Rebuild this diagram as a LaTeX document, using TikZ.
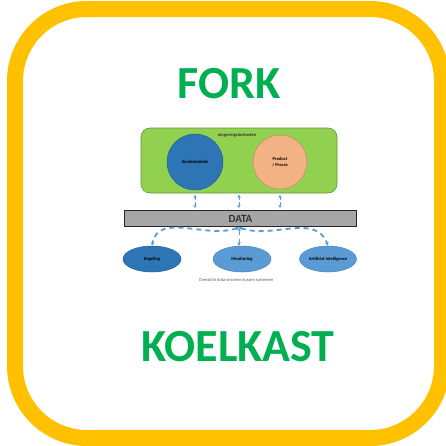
\documentclass[tikz,border=0pt]{standalone}
\usepackage{fontspec}
\setmainfont{Carlito}
\usetikzlibrary{shapes.geometric,arrows.meta}
\definecolor{kader}{HTML}{FFC000}
\definecolor{titelgroen}{HTML}{00B050}
\definecolor{omggroen}{HTML}{92D050}
\definecolor{donkerblauw}{HTML}{2E75B6}
\definecolor{lichtblauw}{HTML}{5B9BD5}
\definecolor{zalm}{HTML}{F4B183}
\definecolor{balkgrijs}{HTML}{A6A6A6}
\tikzset{
  titel/.style={font=\fontsize{46}{46}\selectfont\bfseries, text=titelgroen},
  envbox/.style={draw=omggroen!70!black, fill=omggroen, rounded corners=9, line width=0.6,
    minimum width=196, minimum height=65, inner sep=0},
  bol/.style={circle, draw=#1!80!black, fill=#1, line width=0.5, minimum size=56, inner sep=0,
    align=center, font=\fontsize{4.5}{5.5}\selectfont\bfseries},
  databalk/.style={draw=black!85, fill=balkgrijs, line width=1.8, minimum width=232,
    minimum height=16, inner sep=0, font=\fontsize{11}{11}\selectfont\bfseries, text=black!80},
  systeem/.style={ellipse, draw=#1!85!black, fill=#1, line width=0.5, minimum width=58,
    minimum height=26, inner sep=0, font=\fontsize{4.5}{5}\selectfont\bfseries},
  flow/.style={draw=lichtblauw, dashed, line width=0.9, dash pattern=on 3 off 2.5,
    {Stealth[length=3.5, width=3.5]}-{Stealth[length=3.5, width=3.5]}},
  boog/.style={flow, line width=1.8, dash pattern=on 5 off 4}
}
\begin{document}
\begin{tikzpicture}[x=1pt, y=-1pt]
\useasboundingbox (0,0) rectangle (446,445);
\clip (0,0) rectangle (446,445);
% kader
\draw[kader, line width=16, rounded corners=72] (15,9) rectangle (442,438);
% titels
\node[titel] (fork) at (229,84) {FORK};
\node[titel] (koelkast) at (238,347) {KOELKAST};
% bovenste blok
\node[envbox] (omg) at (239,160.5) {};
\node[font=\fontsize{4.5}{5}\selectfont\bfseries, text=black!80] (omglabel) at (237,135) {omgevingsinvloeden};
\node[bol=donkerblauw] (koel) at (195,162) {Koelinstallatie};
\node[bol=zalm, minimum size=54] (proc) at (280,162) {Product\\ / Proces};
\node[databalk] (data) at (240.5,218.5) {DATA};
\coordinate (mid) at (239,193);
% verticale stromen
\draw[flow, shorten <=1.5, shorten >=1.5] (koel.south |- omg.south) -- (koel.south |- data.north);
\draw[flow, shorten <=1.5, shorten >=1.5] (mid) -- (mid |- data.north);
\draw[flow, shorten <=1.5, shorten >=1.5] (proc.south |- omg.south) -- (proc.south |- data.north);
% systemen
\node[systeem=donkerblauw] (reg) at (152,259) {Regeling};
\node[systeem=lichtblauw] (mon) at (242,259) {Monitoring};
\node[systeem=lichtblauw, minimum width=57] (ai) at (328,259) {Artificial Intelligence};
\draw[boog, line width=0.9] (mid |- data.south) -- (mid |- mon.north);
\draw[boog] (mid |- data.south) to[out=200, in=80] (reg.north);
\draw[boog] (mid |- data.south) to[out=-20, in=110] (ai.north);
\node[font=\fontsize{4.5}{5}\selectfont, text=black!65] (onderschrift) at (236,280) {Overzicht data-stromen tussen systemen};
\end{tikzpicture}
\end{document}
